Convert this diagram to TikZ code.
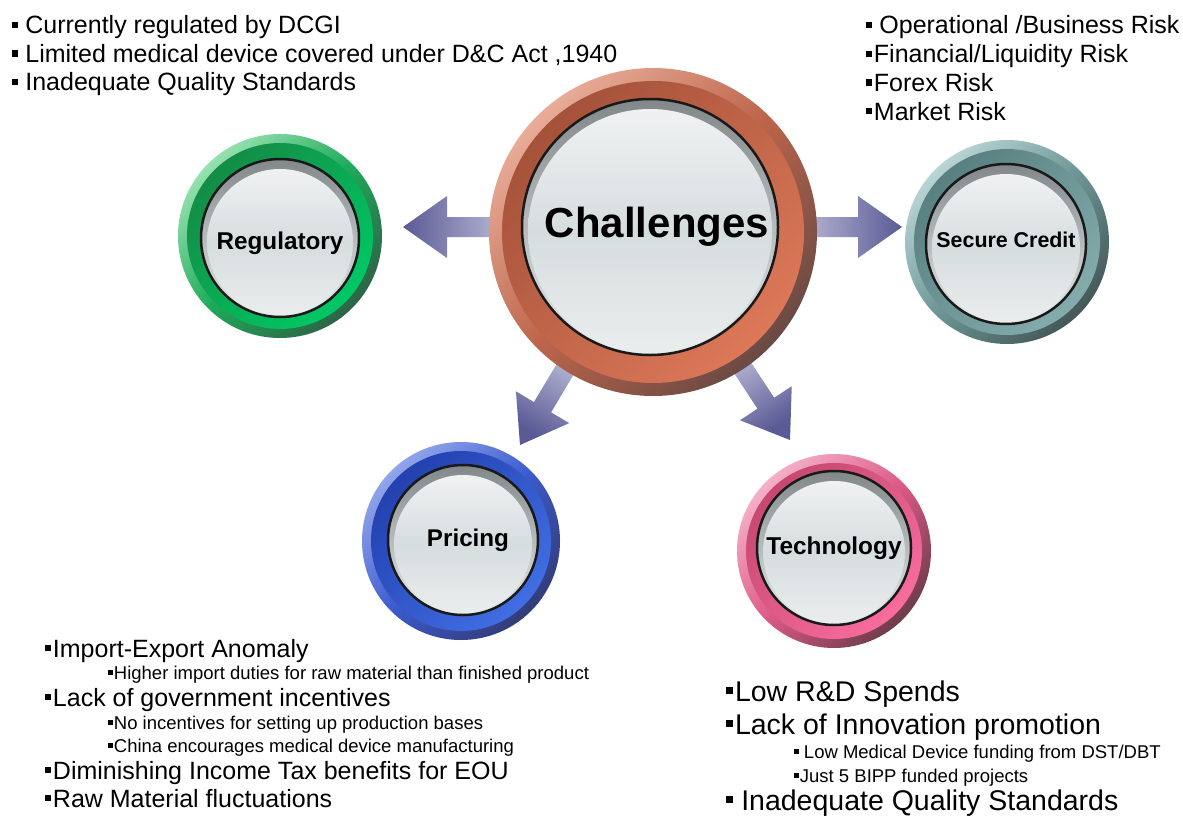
\documentclass[tikz,border=0pt]{standalone}
\usepackage{fontspec}
\setmainfont{Liberation Sans}
\usetikzlibrary{calc, backgrounds}

\definecolor{arrowlight}{RGB}{210,210,230}
\definecolor{arrowdark}{RGB}{90,90,150}
\definecolor{facetop}{RGB}{240,242,242}
\definecolor{facemid}{RGB}{214,221,223}
\definecolor{facebot}{RGB}{234,237,237}
\definecolor{faceshadow}{RGB}{130,136,138}
% rim (A,B,C) and band (D,E) colours of each button
\definecolor{chA}{RGB}{232,172,152}
\definecolor{chB}{RGB}{188,100,74}
\definecolor{chC}{RGB}{105,74,68}
\definecolor{chD}{RGB}{165,82,58}
\definecolor{chE}{RGB}{220,120,88}
\definecolor{regA}{RGB}{150,225,175}
\definecolor{regB}{RGB}{30,170,90}
\definecolor{regC}{RGB}{45,100,70}
\definecolor{regD}{RGB}{20,140,70}
\definecolor{regE}{RGB}{0,200,100}
\definecolor{scA}{RGB}{185,212,212}
\definecolor{scB}{RGB}{110,150,150}
\definecolor{scC}{RGB}{68,88,88}
\definecolor{scD}{RGB}{88,128,128}
\definecolor{scE}{RGB}{132,172,172}
\definecolor{priA}{RGB}{145,165,235}
\definecolor{priB}{RGB}{60,90,205}
\definecolor{priC}{RGB}{50,60,120}
\definecolor{priD}{RGB}{35,65,175}
\definecolor{priE}{RGB}{65,110,228}
\definecolor{tecA}{RGB}{245,175,200}
\definecolor{tecB}{RGB}{220,90,135}
\definecolor{tecC}{RGB}{110,60,75}
\definecolor{tecD}{RGB}{198,72,112}
\definecolor{tecE}{RGB}{248,108,158}

\tikzset{
  button/.style={circle, draw=black!90, line width=2.5pt, inner sep=0pt, minimum size=2*#1,
    path picture={
      \shade[top color=faceshadow, bottom color=facebot] (path picture bounding box.center) circle (#1);
      \shade[top color=facetop, bottom color=facebot, middle color=facemid] ([yshift=-4pt]path picture bounding box.center) circle (#1-6pt);
    }},
  rimshade/.style={top color=#1A, bottom color=#1C, middle color=#1B, shading angle=45},
  bandshade/.style={top color=#1D, bottom color=#1E, shading angle=45},
  bigarrow/.style={top color=arrowdark, bottom color=arrowlight},
  listtext/.style={anchor=base west, inner sep=0pt, text width=#1},
}

\newcommand{\sqb}{\raisebox{0.23em}{\rule{0.25em}{0.25em}}}
\newcommand{\listline}[3]{{\fontsize{#1}{#2}\selectfont\raggedright\spaceskip=0pt\xspaceskip=0pt #3\par}}
\newcommand{\shiftlabel}[2]{\raisebox{#1}[\height][\depth]{#2}}
\newcommand{\buttonring}[4]{%
  \shade[rimshade=#4] (#1) circle (#2);
  \shade[bandshade=#4] (#1) circle (#3);
}
\newcommand{\blockarrow}[2]{%
  \path let \p1=($(#2)-(#1)$), \n1={atan2(\y1,\x1)} in \pgfextra{\xdef\arrowang{\n1}};
  \shade[bigarrow, shading angle=\arrowang-90]
    ($(#2)+(\arrowang:-130pt)+(\arrowang+90:10pt)$) --
    ($(#2)+(\arrowang:-44pt)+(\arrowang+90:10pt)$) --
    ($(#2)+(\arrowang:-44pt)+(\arrowang+90:31pt)$) --
    (#2) --
    ($(#2)+(\arrowang:-44pt)+(\arrowang-90:31pt)$) --
    ($(#2)+(\arrowang:-44pt)+(\arrowang-90:10pt)$) --
    ($(#2)+(\arrowang:-130pt)+(\arrowang-90:10pt)$) -- cycle;
}

\begin{document}
\begin{tikzpicture}[x=1pt, y=-1pt]
  \useasboundingbox (0,0) rectangle (1183,816);

  % Buttons
  \node[button=128pt, font=\bfseries\fontsize{42}{48}\selectfont] (ch) at (650,227) {\hspace*{14pt}Challenges};
  \node[button=79pt, font=\bfseries\fontsize{24.3}{28}\selectfont] (reg) at (280,238) {\shiftlabel{-5pt}{Regulatory}};
  \node[button=80pt, font=\bfseries\fontsize{21.4}{26}\selectfont] (sc) at (1006,244) {\shiftlabel{4pt}{Secure Credit}};
  \node[button=75pt, font=\bfseries\fontsize{24.2}{28}\selectfont] (pri) at (463,540) {\hspace*{10pt}Pricing};
  \node[button=77pt, font=\bfseries\fontsize{24.4}{28}\selectfont] (tec) at (834,548) {Technology};

  % Arrow tips
  \coordinate (regtip) at (403,227);
  \coordinate (sctip) at (902,227);
  \coordinate (pritip) at (520,445);
  \coordinate (tectip) at (790,440);

  \begin{scope}[on background layer]
    \blockarrow{ch.center}{regtip}
    \blockarrow{ch.center}{sctip}
    \blockarrow{ch.center}{pritip}
    \blockarrow{ch.center}{tectip}

    \buttonring{[shift={(3,5)}]ch.center}{164pt}{151pt}{ch}
    \buttonring{[shift={(0,-2)}]reg.center}{102pt}{93pt}{reg}
    \buttonring{[shift={(1,-2)}]sc.center}{102pt}{93pt}{sc}
    \buttonring{[shift={(-2,1)}]pri.center}{99pt}{90pt}{pri}
    \buttonring{[shift={(0,3)}]tec.center}{97pt}{88pt}{tec}
  \end{scope}

  % Regulatory points
  \node[listtext=640pt] (regtext) at (12,34) {
    \listline{25}{28.5}{\sqb\ Currently regulated by DCGI}
    \listline{25}{28.5}{\sqb\ Limited medical device covered under D\&C Act ,1940}
    \listline{25}{28.5}{\sqb\ Inadequate Quality Standards}
  };

  % Secure credit points
  \node[listtext=330pt] (sctext) at (866,34) {
    \listline{25}{28.7}{\sqb\ Operational /Business Risk}
    \listline{25}{28.7}{\sqb\hspace{0.06em}Financial/Liquidity Risk}
    \listline{25}{28.7}{\sqb\hspace{0.06em}Forex Risk}
    \listline{25}{28.7}{\sqb\hspace{0.06em}Market Risk}
  };

  % Pricing points
  \node[listtext=600pt] (pritext) at (45,657) {
    \listline{25}{28}{\sqb\hspace{0.06em}Import-Export Anomaly}
    \listline{18.5}{22}{\hspace*{63pt}\sqb\hspace{0.06em}Higher import duties for raw material than finished product}
    \listline{25}{27}{\sqb\hspace{0.06em}Lack of government incentives}
    \listline{18.5}{23}{\hspace*{63pt}\sqb\hspace{0.06em}No incentives for setting up production bases}
    \listline{18.5}{23}{\hspace*{63pt}\sqb\hspace{0.06em}China encourages medical device manufacturing}
    \listline{25}{27}{\sqb\hspace{0.06em}Diminishing Income Tax benefits for EOU}
    \listline{25}{28}{\sqb\hspace{0.06em}Raw Material fluctuations}
  };

  % Technology points
  \node[listtext=470pt] (tectext) at (726,701) {
    \listline{28.5}{33}{\sqb\hspace{0.06em}Low R\&D Spends}
    \listline{28.5}{33}{\sqb\hspace{0.06em}Lack of Innovation promotion}
    \listline{18.5}{24}{\hspace*{68pt}\sqb\ Low Medical Device funding from DST/DBT}
    \listline{18.5}{24}{\hspace*{68pt}\sqb\hspace{0.06em}Just 5 BIPP funded projects}
    \listline{28.5}{28}{\sqb\ Inadequate Quality Standards}
  };
\end{tikzpicture}
\end{document}
